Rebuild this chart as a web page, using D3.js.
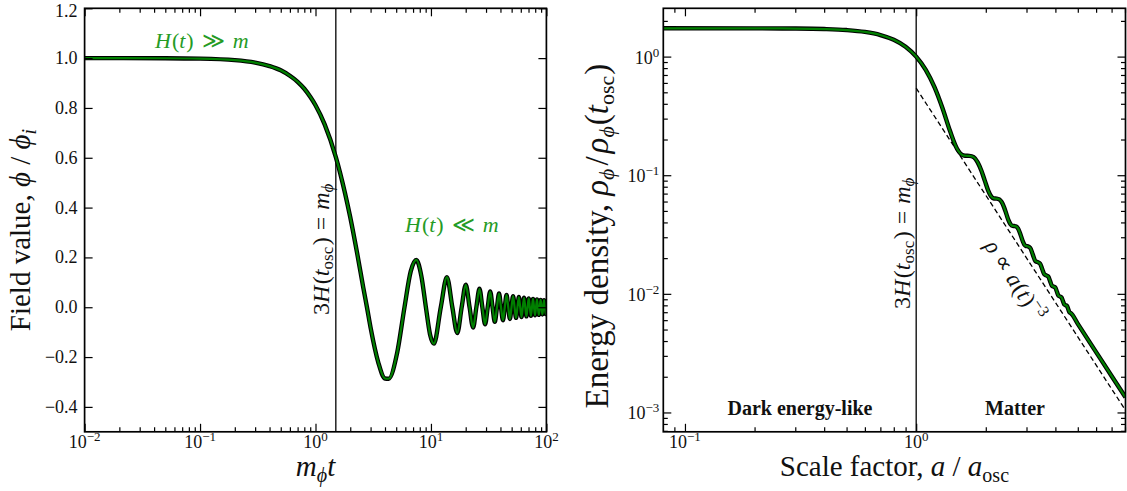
<!DOCTYPE html>
<html><head><meta charset="utf-8">
<script src="https://cdn.jsdelivr.net/npm/d3@7"></script>
<style>
body{margin:0;background:#fff}
svg{display:block}
text{font-family:"Liberation Serif","Times New Roman",serif;white-space:pre}
</style>
</head><body>
<svg id="chart" width="1127" height="491"></svg>
<script>
// ---------------- data ----------------
const fieldTime = [0.01,0.05,0.1,0.2,0.3,0.4,0.5,0.6,0.7,0.8,0.9,1.0,1.2,1.5,1.8,2.0,2.3,2.6,2.79,3.0,3.5,4.0,4.3,
  5.1,5.9,6.68,7.46,8.25,9.04,9.82,
  10.6,12.17,13.74,15.32,16.89,18.46,20.03,21.6,23.17,24.74,26.31,27.88,29.45,31.02,32.59,34.16,35.74,37.31,38.88,40.45,
  42.02,43.59,45.16,46.73,48.3,49.87,51.44,53.01,54.59,56.16,57.73,59.3,60.87,62.44,64.01,65.58,67.15,68.72,70.29,71.86,
  73.43,75.01,76.58,78.15,79.72,81.29,82.86,84.43,86.0,87.57,89.14,90.71,92.28,93.85,95.43,97.0,98.57,100];
const fieldValue = [1.0,0.9995,0.998,0.992,0.982,0.968,0.951,0.929,0.905,0.877,0.845,0.811,0.734,0.603,0.459,0.361,0.214,0.076,0.0,-0.082,-0.222,-0.286,-0.287,
  -0.182,0.0,0.144,0.190,0.126,0.0,-0.109,
  -0.146,0.0,0.1205,0.0,-0.1033,0.0,0.0908,0.0,-0.0814,0.0,0.074,0.0,-0.068,0.0,0.0631,0.0,-0.0588,0.0,0.0552,0.0,
  -0.0521,0.0,0.0494,0.0,-0.0469,0.0,0.0448,0.0,-0.0428,0.0,0.041,0.0,-0.0395,0.0,0.038,0.0,-0.0367,0.0,0.0354,0.0,
  -0.0343,0.0,0.0332,0.0,-0.0322,0.0,0.0313,0.0,-0.0304,0.0,0.0296,0.0,-0.0289,0.0,0.0282,0.0,-0.0275,-0.004];

const densityScale = [0.0806,0.2,0.3,0.4,0.5,0.6,0.7,0.8,0.9,1.0,1.1,1.2,1.3,1.4,1.5,1.6,1.633,1.697,1.7725,1.8448,
  1.9145,1.9817,2.0467,2.1097,2.1708,2.2303,2.2882,2.3447,2.3999,2.4539,2.5066,2.5583,2.609,2.6587,2.7075,2.7554,
  2.8025,2.8488,2.8944,2.9393,2.9835,3.027,3.1124,3.1954,3.2762,3.3552,3.4324,3.5078,3.5817,3.654,3.725,3.7946,
  3.863,3.9302,3.9962,4.0612,4.1252,4.1882,4.2502,4.3114,4.3717,4.4312,4.4898,4.5478,4.605,4.6615,5,6,7,8.04];
const densityValue = [1.7316,1.7301,1.724,1.7078,1.6741,1.6143,1.5201,1.3857,1.21,1.0,0.7727,0.5524,0.3666,0.2366,0.168,0.1468,0.146,0.1455,0.142,0.1285,
  0.1092,0.0896,0.0746,0.0664,0.0637,0.0635,0.0626,0.0592,0.0536,0.0472,0.0418,0.0386,0.0374,0.0373,0.037,0.0356,
  0.0331,0.0302,0.0276,0.0259,0.0253,0.0252,0.0244,0.0214,0.0189,0.0185,0.018,0.0162,0.0146,0.0143,0.014,0.0128,
  0.0117,0.0115,0.0113,0.0104,0.00964,0.0095,0.00934,0.0087,0.00813,0.00802,0.0079,0.00741,0.00697,0.00689,0.005577,0.003227,0.002032,0.00134];

const fitScale = [1, 8.04];
const fitValue = [0.542, 0.001043];

const fieldTicks = [-0.4,-0.2,0.0,0.2,0.4,0.6,0.8,1.0,1.2];
const timeDecades = [-2,-1,0,1,2];
const scaleDecades = [-1,0];
const densityDecades = [-3,-2,-1,0];
const oscTime = 1.5;
const oscScale = 1.0;

const PHI = "\u03d5";

// ---------------- layout ----------------
const svg = d3.select("#chart");
const L = {x0:84.6, x1:546.4, y0:8.3, y1:431.8};
const R = {x0:663.3, x1:1125.5, y0:8.3, y1:431.8};

const xL = d3.scaleLog().domain([0.01,100]).range([L.x0,L.x1]);
const yL = d3.scaleLinear().domain([-0.5,1.2]).range([L.y1,L.y0]);
const xR = d3.scaleLog().domain([0.0806,8.04]).range([R.x0,R.x1]);
const yR = d3.scaleLog().domain([6.87e-4,2.554]).range([R.y1,R.y0]);

const GREEN_TXT = "#259b25";
const GREEN_LINE = "#008000";

const defs = svg.append("defs");
[["clipL",L],["clipR",R]].forEach(([id,b])=>{
  defs.append("clipPath").attr("id",id).append("rect")
    .attr("x",b.x0).attr("y",b.y0).attr("width",b.x1-b.x0).attr("height",b.y1-b.y0);
});

const isMajor = v => Math.abs(Math.log10(v)-Math.round(Math.log10(v)))<1e-9;

function axisSet(g, box, xs, ys, xMaj, xMin, yMaj, yMin){
  const mk = (fn, sc, vals, size, tr) => {
    const a = g.append("g").attr("transform", tr)
      .call(fn(sc).tickValues(vals).tickSize(size).tickFormat(""));
    a.select(".domain").remove();
    a.selectAll("line").attr("stroke","#000").attr("stroke-width",1.2);
  };
  mk(d3.axisBottom, xs, xMaj, -8, `translate(0,${box.y1})`);
  mk(d3.axisTop, xs, xMaj, -8, `translate(0,${box.y0})`);
  if (xMin.length){
    mk(d3.axisBottom, xs, xMin, -4.5, `translate(0,${box.y1})`);
    mk(d3.axisTop, xs, xMin, -4.5, `translate(0,${box.y0})`);
  }
  mk(d3.axisLeft, ys, yMaj, -8, `translate(${box.x0},0)`);
  mk(d3.axisRight, ys, yMaj, -8, `translate(${box.x1},0)`);
  if (yMin.length){
    mk(d3.axisLeft, ys, yMin, -4.5, `translate(${box.x0},0)`);
    mk(d3.axisRight, ys, yMin, -4.5, `translate(${box.x1},0)`);
  }
  g.append("rect").attr("x",box.x0).attr("y",box.y0)
    .attr("width",box.x1-box.x0).attr("height",box.y1-box.y0)
    .attr("fill","none").attr("stroke","#000").attr("stroke-width",1.7);
}

function powLabel(g, x, y, e, anchor){
  const t = g.append("text").attr("x",x).attr("y",y).attr("font-size",18).attr("text-anchor",anchor).attr("fill","#111");
  t.append("tspan").text("10");
  t.append("tspan").attr("font-size",13).attr("dy",-7).text(e<0 ? "\u2212"+(-e) : String(e));
  return t;
}

function oscLabel(g, x, y){
  const t = g.append("text").attr("transform",`translate(${x},${y}) rotate(-90)`).attr("font-size",24).attr("fill","#111");
  t.append("tspan").text("3");
  t.append("tspan").attr("font-style","italic").text("H");
  t.append("tspan").attr("dx",1.5).text("(");
  t.append("tspan").attr("font-style","italic").text("t");
  t.append("tspan").attr("font-size",17).attr("dy",4).text("osc");
  t.append("tspan").attr("dy",-4).attr("dx",1.5).text(")");
  t.append("tspan").attr("dx",7).text("=");
  t.append("tspan").attr("dx",7).attr("font-style","italic").text("m");
  t.append("tspan").attr("font-style","italic").attr("font-size",17).attr("dy",4).text(PHI);
}

function drawCurve(g, data, xs, ys, clip){
  const line = d3.line().x(d=>xs(d[0])).y(d=>ys(d[1])).curve(d3.curveMonotoneX);
  g.append("path").datum(data).attr("d",line).attr("clip-path",`url(#${clip})`)
    .attr("fill","none").attr("stroke","#000").attr("stroke-width",4.4).attr("stroke-linejoin","round");
  g.append("path").datum(data).attr("d",line).attr("clip-path",`url(#${clip})`)
    .attr("fill","none").attr("stroke",GREEN_LINE).attr("stroke-width",2.2).attr("stroke-linejoin","round");
}

function regimeLabel(g, x, y, sym){
  const t = g.append("text").attr("x",x).attr("y",y).attr("font-size",22).attr("fill",GREEN_TXT);
  t.append("tspan").attr("font-style","italic").text("H");
  t.append("tspan").attr("dx",1).text("(");
  t.append("tspan").attr("font-style","italic").text("t");
  t.append("tspan").attr("dx",1).text(")");
  t.append("tspan").attr("dx",8).text(sym);
  t.append("tspan").attr("dx",8).attr("font-style","italic").text("m");
}

// ---------------- left panel ----------------
const gL = svg.append("g");
const tAll = xL.ticks().filter(v=>v>=0.01-1e-12 && v<=100+1e-9);
const tMaj = timeDecades.map(e=>Math.pow(10,e));
const tMin = tAll.filter(v=>!isMajor(v));

gL.append("line").attr("x1",xL(oscTime)).attr("x2",xL(oscTime)).attr("y1",L.y0).attr("y2",L.y1)
  .attr("stroke","#000").attr("stroke-width",1.3);

drawCurve(gL, fieldTime.map((t,i)=>[t,fieldValue[i]]), xL, yL, "clipL");
axisSet(gL, L, xL, yL, tMaj, tMin, fieldTicks, []);

fieldTicks.forEach(v=>{
  gL.append("text").attr("x",L.x0-7).attr("y",Math.max(yL(v)+6,16.5)).attr("font-size",18).attr("text-anchor","end")
    .attr("fill","#111").text(d3.format(".1f")(v));
});
timeDecades.forEach(e=>powLabel(gL, xL(Math.pow(10,e)), 448, e, "middle"));

oscLabel(gL, xL(oscTime)-6.5, 315);

regimeLabel(gL, 155, 47.5, "\u226B");
regimeLabel(gL, 405, 231.5, "\u226A");

{
  const yl = gL.append("text").attr("transform",`translate(30,${(L.y0+L.y1)/2+10}) rotate(-90)`)
    .attr("font-size",29).attr("text-anchor","middle").attr("fill","#111");
  yl.append("tspan").text("Field value, ");
  yl.append("tspan").attr("font-style","italic").text(PHI);
  yl.append("tspan").text(" / ");
  yl.append("tspan").attr("font-style","italic").text(PHI);
  yl.append("tspan").attr("font-style","italic").attr("font-size",20).attr("dy",6).text("i");

  const xl = gL.append("text").attr("x",(L.x0+L.x1)/2).attr("y",476).attr("font-size",29).attr("text-anchor","middle").attr("fill","#111");
  xl.append("tspan").attr("font-style","italic").text("m");
  xl.append("tspan").attr("font-style","italic").attr("font-size",20).attr("dy",6).text(PHI);
  xl.append("tspan").attr("font-style","italic").attr("dy",-6).text("t");
}

// ---------------- right panel ----------------
const gR = svg.append("g");
const aAll = xR.ticks().filter(v=>v>=0.0806 && v<=8.04);
const aMaj = scaleDecades.map(e=>Math.pow(10,e));
const aMin = aAll.filter(v=>!isMajor(v));
const rAll = yR.ticks().filter(v=>v>=6.87e-4 && v<=2.554);
const rMaj = densityDecades.map(e=>Math.pow(10,e));
const rMin = rAll.filter(v=>!isMajor(v));

gR.append("line").attr("x1",xR(oscScale)).attr("x2",xR(oscScale)).attr("y1",R.y0).attr("y2",R.y1)
  .attr("stroke","#000").attr("stroke-width",1.3);

gR.append("path").datum(fitScale.map((a,i)=>[a,fitValue[i]]))
  .attr("d", d3.line().x(d=>xR(d[0])).y(d=>yR(d[1])))
  .attr("clip-path","url(#clipR)")
  .attr("fill","none").attr("stroke","#000").attr("stroke-width",1.3).attr("stroke-dasharray","5,3");

drawCurve(gR, densityScale.map((a,i)=>[a,densityValue[i]]), xR, yR, "clipR");
axisSet(gR, R, xR, yR, aMaj, aMin, rMaj, rMin);

densityDecades.forEach(e=>powLabel(gR, R.x0-4, yR(Math.pow(10,e))+7, e, "end"));
scaleDecades.forEach(e=>powLabel(gR, xR(Math.pow(10,e)), 448, e, "middle"));

oscLabel(gR, xR(oscScale)-6.5, 309);

gR.append("text").attr("x",800).attr("y",415).attr("font-size",20).attr("font-weight","bold")
  .attr("text-anchor","middle").attr("fill","#111").text("Dark energy-like");
gR.append("text").attr("x",1015).attr("y",415).attr("font-size",20).attr("font-weight","bold")
  .attr("text-anchor","middle").attr("fill","#111").text("Matter");

{
  const t = gR.append("text").attr("transform","translate(984,246) rotate(57)").attr("font-size",23).attr("fill","#111");
  t.append("tspan").attr("font-style","italic").text("\u03c1");
  t.append("tspan").attr("dx",6).text("\u221D");
  t.append("tspan").attr("dx",6).attr("font-style","italic").text("a");
  t.append("tspan").attr("dx",1).text("(");
  t.append("tspan").attr("font-style","italic").text("t");
  t.append("tspan").attr("dx",1).text(")");
  t.append("tspan").attr("font-size",16).attr("dy",-9).text("\u22123");
}

{
  const yl = gR.append("text").attr("transform",`translate(608,${(R.y0+R.y1)/2+16}) rotate(-90)`)
    .attr("font-size",33).attr("text-anchor","middle").attr("fill","#111");
  yl.append("tspan").text("Energy density, ");
  yl.append("tspan").attr("font-style","italic").text("\u03c1");
  yl.append("tspan").attr("font-style","italic").attr("font-size",22).attr("dy",6).text(PHI);
  yl.append("tspan").attr("dy",-6).attr("dx",3).text("/");
  yl.append("tspan").attr("dx",3).attr("font-style","italic").text("\u03c1");
  yl.append("tspan").attr("font-style","italic").attr("font-size",22).attr("dy",6).text(PHI);
  yl.append("tspan").attr("dy",-6).attr("dx",1).text("(");
  yl.append("tspan").attr("font-style","italic").text("t");
  yl.append("tspan").attr("font-size",22).attr("dy",6).text("osc");
  yl.append("tspan").attr("dy",-6).attr("dx",1).text(")");

  const xl = gR.append("text").attr("x",(R.x0+R.x1)/2).attr("y",476).attr("font-size",29).attr("text-anchor","middle").attr("fill","#111");
  xl.append("tspan").text("Scale factor, ");
  xl.append("tspan").attr("font-style","italic").text("a");
  xl.append("tspan").text(" / ");
  xl.append("tspan").attr("font-style","italic").text("a");
  xl.append("tspan").attr("font-size",20).attr("dy",6).text("osc");
}
</script>
</body></html>
